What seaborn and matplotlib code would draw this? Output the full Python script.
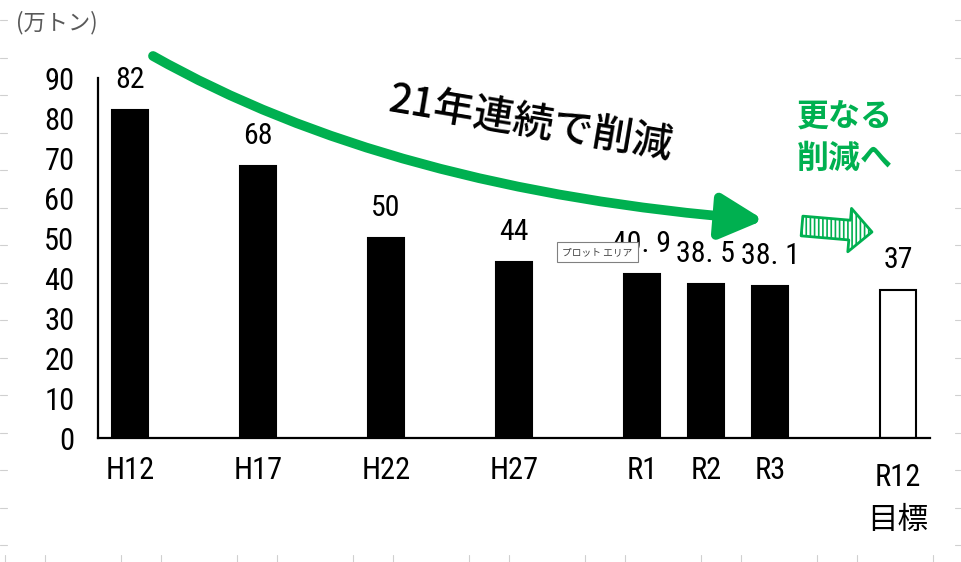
import numpy as np
import pandas as pd
import matplotlib.pyplot as plt
import seaborn as sns
from matplotlib import font_manager
from matplotlib.lines import Line2D
from matplotlib.path import Path
from matplotlib.patches import FancyArrowPatch
from matplotlib.transforms import ScaledTranslation

# data
years = ['H12', 'H17', 'H22', 'H27', 'R1', 'R2', 'R3', 'R12\n目標']
slots = [0, 2, 4, 6, 8, 9, 10, 12]
amounts = [82, 68, 50, 44, 40.9, 38.5, 38.1, 37]
kinds = ['実績'] * 7 + ['目標']
y_ticks = [0, 10, 20, 30, 40, 50, 60, 70, 80, 90]

GREEN = '#00B050'
W, H = 962, 562
JP = ['Noto Sans CJK JP', 'DejaVu Sans']


def fx(px):
    return px / W


def fy(py):
    return 1 - py / H


def pick_narrow():
    # a condensed face for the digits if one is installed
    names = {f.name for f in font_manager.fontManager.ttflist}
    for n in ['Liberation Sans Narrow', 'DejaVu Sans Condensed', 'Roboto Condensed',
              'Open Sans Condensed']:
        if n in names:
            return n
    return None


def draw_chart():
    df = pd.DataFrame({'slot': slots, 'amount': amounts, 'kind': kinds})

    sns.set_theme(style='white')
    narrow = pick_narrow()
    fam = ([narrow] if narrow else []) + JP
    plt.rcParams['font.family'] = fam
    plt.rcParams['hatch.color'] = GREEN
    plt.rcParams['hatch.linewidth'] = 1.2

    fig = plt.figure(figsize=(W / 100, H / 100), dpi=100)
    ax = fig.add_axes([fx(98), fy(438), fx(930) - fx(98), fy(78) - fy(438)])

    sns.barplot(data=df, x='slot', y='amount', hue='kind', native_scale=True,
                palette={'実績': 'black', '目標': 'white'}, dodge=False,
                width=0.56, edgecolor='black', linewidth=1.5, legend=False, ax=ax)

    num_size = 22 if narrow else 19
    ax.set_xlim(-0.5, 12.5)
    ax.set_ylim(0, 90)
    ax.set_xticks(slots, years)
    ax.set_yticks(y_ticks)
    ax.set_xlabel('')
    ax.set_ylabel('')
    ax.tick_params(axis='both', length=0, labelsize=num_size, colors='black')
    ax.tick_params(axis='x', pad=13)
    ax.tick_params(axis='y', pad=17)
    xlabels = ax.get_xticklabels()
    for lab in xlabels:
        lab.set_linespacing(1.6)
    # the two-line target label sits a little lower in the original
    xlabels[-1].set_transform(xlabels[-1].get_transform()
                              + ScaledTranslation(0, -0.07, fig.dpi_scale_trans))
    for side in ['top', 'right']:
        ax.spines[side].set_visible(False)
    for side in ['left', 'bottom']:
        ax.spines[side].set_color('black')
        ax.spines[side].set_linewidth(1.6)

    # value labels above bars
    for s, v in zip(slots, amounts):
        txt = f'{v:g}'
        if narrow:
            txt = txt.replace('.', '. ')
        ax.text(s, v + 4, txt, ha='center', va='bottom', fontsize=num_size - 0.5,
                color='black')

    # unit label
    fig.text(fx(16), fy(23), '(万トン)', fontsize=16, color='#595959', va='center', ha='left',
             family=JP)

    # main decreasing arrow (curve in axes data coords)
    def to_data(px, py):
        return (px - 98) / 64 - 0.5, (438 - py) / 4

    p0 = to_data(153, 56)
    p1 = to_data(390, 190)
    p2 = to_data(764, 220)
    curve = Path([p0, p1, p2], [Path.MOVETO, Path.CURVE3, Path.CURVE3])
    arrow = FancyArrowPatch(path=curve, arrowstyle='-|>,head_length=1.45,head_width=0.75',
                            mutation_scale=18, color=GREEN, linewidth=7,
                            transform=ax.transData, clip_on=False)
    ax.add_patch(arrow)

    fig.text(fx(531), fy(123), '21年連続で削減', fontsize=29, fontweight=500,
             rotation=-9.5, ha='center', va='center', color='black', family=JP)

    fig.text(fx(845), fy(138), '更なる\n削減へ', fontsize=23, fontweight='bold',
             ha='center', va='center', color=GREEN, linespacing=1.4, family=JP)

    # small hatched arrow toward the target
    small = FancyArrowPatch(to_data(802, 226), to_data(872, 232),
                            arrowstyle='simple,head_length=0.85,head_width=1.65,tail_width=0.75',
                            mutation_scale=19, facecolor='white', edgecolor=GREEN,
                            hatch='||||', linewidth=2, shrinkA=0, shrinkB=0,
                            transform=ax.transData, clip_on=False)
    ax.add_patch(small)

    # excel tooltip left in the screenshot
    fig.text(fx(562), fy(252), 'プロット エリア', fontsize=7, color='#404040',
             ha='left', va='center', family=JP, zorder=5,
             bbox=dict(boxstyle='square,pad=0.55', facecolor='white', edgecolor='#808080',
                       linewidth=0.8))

    # faint sheet gridline stubs at the picture edges
    stub = dict(color='#d0d0d0', linewidth=0.8)
    for py in np.arange(20, 560, 37.5):
        fig.add_artist(Line2D([0, fx(7)], [fy(py)] * 2, **stub))
        fig.add_artist(Line2D([fx(955), 1], [fy(py)] * 2, **stub))
    for start in [5, 45]:
        for px in np.arange(start, 962, 116):
            fig.add_artist(Line2D([fx(px)] * 2, [0, fy(555)], **stub))

    fig.savefig('out.png', dpi=100, facecolor='white')


if __name__ == '__main__':
    draw_chart()
